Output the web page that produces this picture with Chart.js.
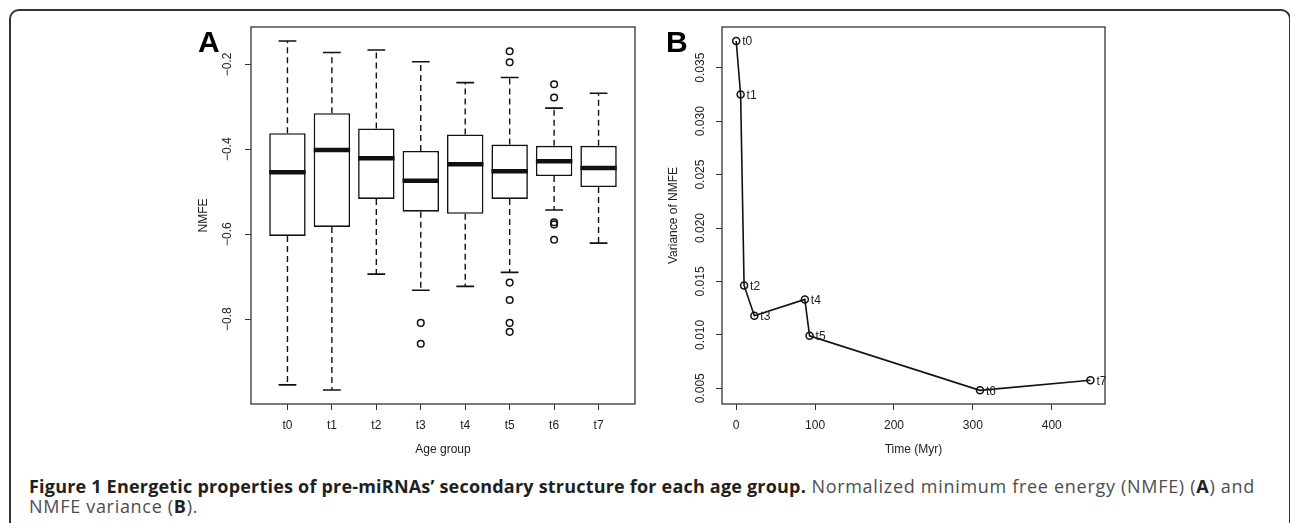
<!DOCTYPE html>
<html lang="en">
<head>
  <meta charset="UTF-8">
  <title>Figure 1 - NMFE by age group</title>
  <script src="https://cdn.jsdelivr.net/npm/chart.js"></script>
  <style>
    * {
      margin: 0;
      padding: 0;
      box-sizing: border-box;
    }

    body {
      width: 1290px;
      height: 523px;
      background: #fff;
      position: relative;
      overflow: hidden;
      font-family: 'Liberation Sans', Arial, sans-serif;
    }

    .frame {
      position: absolute;
      left: 9px;
      top: 9px;
      width: 1282px;
      height: 600px;
      border: 2px solid #333;
      border-radius: 10px;
    }

    .panel {
      position: absolute;
      top: 0;
    }

    #panel-a { left: 180px; }
    #panel-b { left: 650px; }

    .letter {
      position: absolute;
      top: 27px;
      font-weight: bold;
      font-size: 30px;
      line-height: 30px;
      color: #000;
    }

    #caption {
      position: absolute;
      left: 29px;
      top: 476px;
      font-family: 'Open Sans', sans-serif;
      font-size: 18px;
      line-height: 20px;
      letter-spacing: 0.7px;
      color: #4d4d4d;
      white-space: nowrap;
    }

    #caption b {
      color: #231f20;
    }

    #caption .lead {
      letter-spacing: 0.2px;
    }
  </style>
</head>
<body>
  <div class="frame"></div>
  <canvas id="panel-a" class="panel" width="470" height="470"></canvas>
  <canvas id="panel-b" class="panel" width="470" height="470"></canvas>
  <div class="letter" style="left:198px">A</div>
  <div class="letter" style="left:666px">B</div>
  <div id="caption"><b class="lead">Figure 1 Energetic properties of pre-miRNAs’ secondary structure for each age group.</b> Normalized minimum free energy (NMFE) (<b>A</b>) and<br>NMFE variance (<b>B</b>).</div>

  <script>
    // ---- panel A: NMFE boxplots per age group ----
    const groups = ['t0', 't1', 't2', 't3', 't4', 't5', 't6', 't7'];
    const lowerWhisker = [-0.955, -0.967, -0.694, -0.732, -0.723, -0.690, -0.543, -0.621];
    const q1 = [-0.604, -0.583, -0.517, -0.547, -0.552, -0.517, -0.463, -0.489];
    const median = [-0.454, -0.402, -0.421, -0.474, -0.435, -0.452, -0.428, -0.444];
    const q3 = [-0.362, -0.315, -0.351, -0.404, -0.365, -0.389, -0.392, -0.392];
    const upperWhisker = [-0.145, -0.172, -0.166, -0.194, -0.243, -0.231, -0.303, -0.268];
    const outlierGroup = ['t3', 't3', 't5', 't5', 't5', 't5', 't5', 't5', 't6', 't6', 't6', 't6', 't6'];
    const outlierValue = [-0.809, -0.858, -0.169, -0.195, -0.714, -0.755, -0.809, -0.830, -0.247, -0.278, -0.572, -0.577, -0.613];
    const nmfeTicks = [-0.8, -0.6, -0.4, -0.2];

    // ---- panel B: variance of NMFE vs time ----
    const timeMyr = [0, 5.6, 10, 23, 87, 93, 309, 449];
    const nmfeVariance = [0.0375, 0.0325, 0.01463, 0.01178, 0.01332, 0.00991, 0.00481, 0.00575];
    const timeTicks = [0, 100, 200, 300, 400];
    const varianceTicks = [0.005, 0.010, 0.015, 0.020, 0.025, 0.030, 0.035];

    Chart.defaults.font.family = "'Liberation Sans', Arial, sans-serif";
    Chart.defaults.font.size = 12;
    Chart.defaults.color = '#222';

    const ink = '#111';

    // box around the plotting region, like R's box()
    const plotFrame = {
      id: 'plotFrame',
      afterDraw(chart) {
        const { ctx, chartArea: a } = chart;
        ctx.save();
        ctx.strokeStyle = '#333';
        ctx.lineWidth = 1.3;
        ctx.strokeRect(a.left, a.top, a.right - a.left, a.bottom - a.top);
        ctx.restore();
      }
    };

    // whiskers, caps and medians drawn from the arrays through the scales
    const boxParts = {
      id: 'boxParts',
      afterDatasetsDraw(chart) {
        const { ctx, scales: { x, y } } = chart;
        ctx.save();
        ctx.strokeStyle = ink;
        groups.forEach((g, i) => {
          const pos = i + 1;
          const cx = x.getPixelForValue(pos);

          ctx.lineWidth = 1.4;
          ctx.setLineDash([6, 4]);
          ctx.beginPath();
          ctx.moveTo(cx, y.getPixelForValue(q3[i]));
          ctx.lineTo(cx, y.getPixelForValue(upperWhisker[i]));
          ctx.moveTo(cx, y.getPixelForValue(q1[i]));
          ctx.lineTo(cx, y.getPixelForValue(lowerWhisker[i]));
          ctx.stroke();
          ctx.setLineDash([]);

          ctx.lineWidth = 1.6;
          ctx.beginPath();
          [upperWhisker[i], lowerWhisker[i]].forEach(v => {
            const py = y.getPixelForValue(v);
            ctx.moveTo(x.getPixelForValue(pos - 0.2), py);
            ctx.lineTo(x.getPixelForValue(pos + 0.2), py);
          });
          ctx.stroke();

          ctx.lineWidth = 4.5;
          ctx.beginPath();
          const my = y.getPixelForValue(median[i]);
          ctx.moveTo(x.getPixelForValue(pos - 0.41), my);
          ctx.lineTo(x.getPixelForValue(pos + 0.41), my);
          ctx.stroke();
        });
        ctx.restore();
      }
    };

    // text labels next to each point in panel B
    const pointLabels = {
      id: 'pointLabels',
      afterDatasetsDraw(chart) {
        const { ctx } = chart;
        const meta = chart.getDatasetMeta(0);
        ctx.save();
        ctx.font = "12px 'Liberation Sans', Arial, sans-serif";
        ctx.fillStyle = '#222';
        ctx.textBaseline = 'middle';
        meta.data.forEach((pt, i) => {
          ctx.fillText(groups[i], pt.x + 6, pt.y + 1);
        });
        ctx.restore();
      }
    };

    function axisGrid() {
      return {
        offset: false,
        drawOnChartArea: false,
        drawTicks: true,
        tickLength: 6,
        color: '#333',
        lineWidth: 1
      };
    }

    new Chart(document.getElementById('panel-a'), {
      type: 'bar',
      data: {
        datasets: [
          {
            type: 'bar',
            data: groups.map((g, i) => ({ x: i + 1, y: [q1[i], q3[i]] })),
            backgroundColor: '#fff',
            borderColor: ink,
            borderWidth: 1.6,
            borderSkipped: false,
            categoryPercentage: 1,
            barPercentage: 0.82,
            order: 2
          },
          {
            type: 'scatter',
            data: outlierValue.map((v, i) => ({ x: groups.indexOf(outlierGroup[i]) + 1, y: v })),
            pointStyle: 'circle',
            pointRadius: 3.3,
            pointBorderWidth: 1.5,
            pointBorderColor: ink,
            pointBackgroundColor: 'rgba(0,0,0,0)',
            order: 1
          }
        ]
      },
      options: {
        responsive: false,
        animation: false,
        devicePixelRatio: 1,
        layout: { padding: { top: 27, right: 15, bottom: 0, left: 0 } },
        plugins: { legend: { display: false }, tooltip: { enabled: false } },
        scales: {
          x: {
            type: 'linear',
            min: 0.18,
            max: 8.82,
            offset: false,
            grid: axisGrid(),
            border: { display: false },
            afterBuildTicks: s => { s.ticks = groups.map((g, i) => ({ value: i + 1 })); },
            afterFit: s => { s.height = 66; },
            ticks: { autoSkip: false, maxRotation: 0, padding: 8, callback: v => groups[v - 1] },
            title: { display: true, text: 'Age group', padding: { top: 4, bottom: 13 } }
          },
          y: {
            type: 'linear',
            min: -1.0,
            max: -0.112,
            beginAtZero: false,
            grid: axisGrid(),
            border: { display: false },
            afterBuildTicks: s => { s.ticks = nmfeTicks.map(v => ({ value: v })); },
            afterFit: s => { s.width = 71; },
            ticks: {
              autoSkip: false,
              minRotation: 90,
              maxRotation: 90,
              crossAlign: 'center',
              padding: 5,
              callback: v => '\u2212' + Math.abs(v).toFixed(1)
            },
            title: { display: true, text: 'NMFE', padding: { top: 16, bottom: 0 } }
          }
        }
      },
      plugins: [boxParts, plotFrame]
    });

    new Chart(document.getElementById('panel-b'), {
      type: 'line',
      data: {
        datasets: [{
          data: timeMyr.map((t, i) => ({ x: t, y: nmfeVariance[i] })),
          borderColor: ink,
          borderWidth: 1.6,
          tension: 0,
          pointStyle: 'circle',
          pointRadius: 3.5,
          pointBorderWidth: 1.5,
          pointBorderColor: ink,
          pointBackgroundColor: 'rgba(0,0,0,0)'
        }]
      },
      options: {
        responsive: false,
        animation: false,
        devicePixelRatio: 1,
        layout: { padding: { top: 27, right: 15, bottom: 0, left: 0 } },
        plugins: { legend: { display: false }, tooltip: { enabled: false } },
        scales: {
          x: {
            type: 'linear',
            min: -18,
            max: 467.5,
            grid: axisGrid(),
            border: { display: false },
            afterBuildTicks: s => { s.ticks = timeTicks.map(v => ({ value: v })); },
            afterFit: s => { s.height = 66; },
            ticks: { autoSkip: false, maxRotation: 0, padding: 8, callback: v => String(v) },
            title: { display: true, text: 'Time (Myr)', padding: { top: 4, bottom: 13 } }
          },
          y: {
            type: 'linear',
            min: 0.00353,
            max: 0.03881,
            grid: axisGrid(),
            border: { display: false },
            afterBuildTicks: s => { s.ticks = varianceTicks.map(v => ({ value: v })); },
            afterFit: s => { s.width = 72; },
            ticks: {
              autoSkip: false,
              minRotation: 90,
              maxRotation: 90,
              crossAlign: 'center',
              padding: 0,
              callback: v => v.toFixed(3)
            },
            title: { display: true, text: 'Variance of NMFE', padding: { top: 16, bottom: 0 } }
          }
        }
      },
      plugins: [pointLabels, plotFrame]
    });
  </script>
</body>
</html>
